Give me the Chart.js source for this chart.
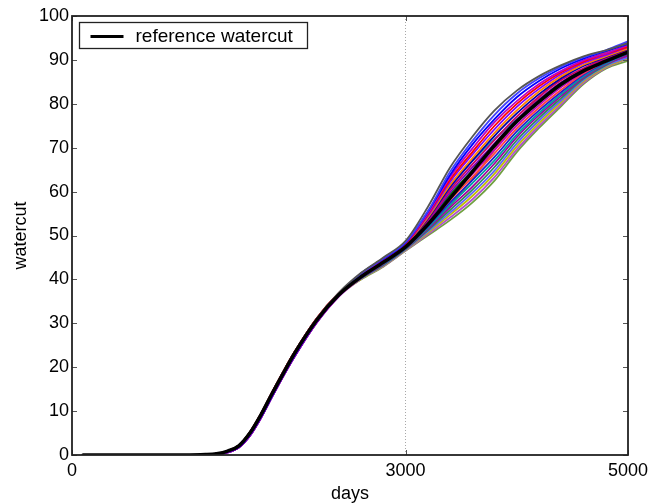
<!DOCTYPE html>
<html><head><meta charset="utf-8">
<script src="https://cdn.jsdelivr.net/npm/chart.js@4"></script>
<style>html,body{margin:0;padding:0;background:#fff}</style>
</head><body>
<canvas id="c" width="664" height="503"></canvas>
<script>
const days = [100,500,1000,1200,1300,1400,1500,1600,1700,1800,1900,2000,2200,2400,2600,2800,3000,3200,3400,3600,3800,4000,4200,4400,4600,4800,5000];
const referenceWatercut = [0,0,0,0.1,0.3,0.9,2.1,5.0,9.2,14.0,18.6,23.1,30.7,36.5,40.6,43.9,47.4,52.5,58.5,64.5,70.5,76.0,80.5,84.5,87.5,89.7,91.8];
const ens01 = [0,0,0,0.1,0.3,0.9,2.2,5.2,9.4,14.3,19.0,23.4,31.1,37.0,41.5,45.0,48.8,56.5,65.5,72.5,78.5,83.0,86.3,88.8,90.8,92.2,93.8];
const ens02 = [0,0,0,0.1,0.3,0.8,2.1,5.0,9.2,14.0,18.7,23.1,30.8,36.8,41.3,44.8,48.5,55.5,64.5,71.5,77.5,82.3,85.8,88.5,90.6,92.2,94.2];
const ens03 = [0,0,0,0.1,0.2,0.7,1.8,4.6,8.7,13.5,18.2,22.6,30.4,36.4,41.4,44.7,48.4,55.4,63.8,70.7,76.5,81.5,85.2,88.1,90.3,92.0,93.6];
const ens04 = [0,0,0,0.1,0.2,0.6,1.7,4.4,8.5,13.3,18.0,22.4,30.2,36.2,41.2,44.6,48.3,55.0,63.3,69.8,75.8,80.6,84.5,87.5,89.9,91.5,93.4];
const ens05 = [0,0,0,0.1,0.3,0.9,2.2,5.2,9.4,14.3,19.0,23.4,31.1,36.9,41.1,44.5,48.1,54.8,62.7,69.0,75.0,80.0,84.0,87.2,89.6,91.4,93.0];
const ens06 = [0,0,0,0.1,0.3,0.8,2.1,5.0,9.2,14.0,18.7,23.1,30.8,36.7,41.0,44.4,48.0,54.5,62.2,68.4,74.2,79.3,83.4,86.8,89.3,91.1,92.9];
const ens07 = [0,0,0,0.1,0.2,0.7,1.8,4.6,8.7,13.5,18.2,22.6,30.4,36.4,41.0,44.3,47.9,54.1,61.5,67.6,73.4,78.5,82.8,86.3,88.9,90.8,92.6];
const ens08 = [0,0,0,0.1,0.2,0.6,1.7,4.4,8.5,13.3,18.0,22.4,30.2,36.3,40.9,44.2,47.8,53.8,61.0,67.0,72.7,77.8,82.2,85.8,88.6,90.6,92.5];
const ens09 = [0,0,0,0.1,0.3,0.9,2.2,5.2,9.4,14.3,19.0,23.4,31.1,36.8,40.8,44.1,47.7,53.5,60.4,66.2,71.8,77.1,81.6,85.4,88.1,90.4,92.3];
const ens10 = [0,0,0,0.1,0.3,0.8,2.1,5.0,9.2,14.0,18.7,23.1,30.8,36.6,40.7,44.0,47.6,53.2,59.8,65.5,71.0,76.4,81.0,84.9,87.8,90.1,92.4];
const ens11 = [0,0,0,0.1,0.2,0.7,1.8,4.6,8.7,13.5,18.2,22.6,30.4,36.4,40.7,43.9,47.5,53.0,59.3,64.8,70.3,75.8,80.3,84.3,87.5,90.0,92.0];
const ens12 = [0,0,0,0.1,0.2,0.6,1.7,4.4,8.5,13.3,18.0,22.4,30.2,36.3,40.6,43.8,47.4,52.7,58.7,64.0,69.5,75.1,79.7,83.8,87.2,89.8,92.1];
const ens13 = [0,0,0,0.1,0.3,0.9,2.2,5.2,9.4,14.3,19.0,23.4,31.1,36.8,40.5,43.7,47.3,52.4,58.1,63.3,68.7,74.4,79.1,83.2,86.9,89.6,91.7];
const ens14 = [0,0,0,0.1,0.3,0.8,2.1,5.0,9.2,14.0,18.7,23.1,30.8,36.6,40.4,43.6,47.2,52.1,57.5,62.6,67.9,73.7,78.5,82.7,86.6,89.4,91.5];
const ens15 = [0,0,0,0.1,0.2,0.7,1.8,4.6,8.7,13.5,18.2,22.6,30.4,36.4,40.4,43.5,47.1,51.8,57.0,61.9,67.1,73.0,77.9,82.2,86.3,89.2,91.6];
const ens16 = [0,0,0,0.1,0.2,0.6,1.7,4.4,8.5,13.3,18.0,22.4,30.2,36.2,40.3,43.4,47.0,51.5,56.4,61.1,66.4,72.4,77.4,81.8,86.0,89.0,91.0];
const ens17 = [0,0,0,0.1,0.3,0.9,2.2,5.2,9.4,14.3,19.0,23.4,31.0,36.7,40.3,43.3,46.9,51.2,55.8,60.4,65.6,71.7,76.8,81.3,85.7,88.8,91.2];
const ens18 = [0,0,0,0.1,0.3,0.8,2.1,5.0,9.2,14.0,18.7,23.1,30.7,36.5,40.2,43.2,46.8,50.9,55.2,59.7,64.8,71.0,76.2,80.8,85.4,88.6,90.6];
const ens19 = [0,0,0,0.1,0.2,0.7,1.8,4.6,8.7,13.5,18.2,22.6,30.3,36.3,40.1,43.1,46.7,50.6,54.7,59.0,64.1,70.3,75.6,80.4,85.1,88.4,90.4];
const ens20 = [0,0,0,0.1,0.2,0.6,1.7,4.4,8.5,13.3,18.0,22.4,30.1,36.1,40.1,43.0,46.6,50.3,54.1,58.2,63.3,69.6,75.0,79.9,84.8,88.2,90.3];
const ens21 = [0,0,0,0.1,0.3,0.9,2.2,5.2,9.4,14.3,19.0,23.4,30.9,36.6,40.0,42.9,46.5,50.0,53.5,57.5,62.5,69.0,74.5,79.5,84.5,88.0,89.8];
const ens22 = [0,0,0,0.1,0.3,0.8,2.1,5.0,9.2,14.0,18.7,23.1,30.8,36.6,40.6,43.8,47.2,51.5,56.8,62.8,69.5,76.0,81.5,86.0,89.5,91.8,94.0];
const ens23 = [0,0,0,0.1,0.2,0.7,1.8,4.6,8.7,13.5,18.2,22.6,30.4,36.4,40.9,44.3,48.0,54.0,61.5,67.0,72.0,76.5,80.5,84.0,87.0,89.3,90.6];
const ensembleSeries = [ens01,ens02,ens03,ens04,ens05,ens06,ens07,ens08,ens09,ens10,ens11,ens12,ens13,ens14,ens15,ens16,ens17,ens18,ens19,ens20,ens21,ens22,ens23];
const ensembleColors = ['#555555','#4040ff','#0000ff','#bf00bf','#ff0000','#7f00ff','#ff7f00','#0000aa','#cc0066','#8000c0','#008000','#c000c0','#ff4040','#2020d0','#00a0a0','#a000a0','#2e8b57','#6060ff','#bfbf00','#b050d0','#70a040','#e07000','#00bfbf'];
const xTickValues = [0, 3000, 5000];
const yMin = 0, yMax = 100, yStep = 10;
const referenceLabel = 'reference watercut';

const FONT = "'Liberation Sans', Arial, Helvetica, sans-serif";
Chart.defaults.font.family = FONT;
Chart.defaults.color = '#000';

const toPoints = arr => arr.map((v, i) => ({x: days[i], y: v}));

const datasets = [{
  label: referenceLabel,
  data: toPoints(referenceWatercut),
  borderColor: '#000',
  borderWidth: 3.5,
  order: 0
}];
ensembleSeries.forEach((s, i) => {
  datasets.push({
    label: 'ensemble ' + (i + 1),
    data: toPoints(s),
    borderColor: ensembleColors[i],
    borderWidth: 1.8,
    order: 1
  });
});

const framePlugin = {
  id: 'frame',
  afterDraw(chart) {
    const {ctx, chartArea: a, scales} = chart;
    ctx.save();
    ctx.strokeStyle = '#555';
    ctx.lineWidth = 1;
    ctx.beginPath();
    scales.y.ticks.forEach(t => {
      const y = Math.round(scales.y.getPixelForValue(t.value)) + 0.5;
      ctx.moveTo(a.left, y); ctx.lineTo(a.left + 5, y);
      ctx.moveTo(a.right, y); ctx.lineTo(a.right - 5, y);
    });
    scales.x.ticks.forEach(t => {
      const x = Math.round(scales.x.getPixelForValue(t.value)) + 0.5;
      ctx.moveTo(x, a.bottom); ctx.lineTo(x, a.bottom - 5);
      ctx.moveTo(x, a.top); ctx.lineTo(x, a.top + 5);
    });
    ctx.stroke();
    ctx.strokeStyle = '#222';
    ctx.lineWidth = 1.8;
    ctx.strokeRect(a.left, a.top, a.right - a.left, a.bottom - a.top);
    // legend box inside plot area
    const ds = chart.data.datasets[0];
    const bx = Math.round(a.left + 7) + 0.5, by = Math.round(a.top + 6) + 0.5, bw = 228, bh = 26;
    ctx.fillStyle = '#fff';
    ctx.fillRect(bx, by, bw, bh);
    ctx.strokeStyle = '#222';
    ctx.lineWidth = 1.3;
    ctx.strokeRect(bx, by, bw, bh);
    ctx.beginPath();
    ctx.strokeStyle = ds.borderColor;
    ctx.lineWidth = 3;
    ctx.moveTo(bx + 11, by + bh / 2 + 1);
    ctx.lineTo(bx + 44, by + bh / 2 + 1);
    ctx.stroke();
    ctx.fillStyle = '#000';
    ctx.font = '19px ' + FONT;
    ctx.textBaseline = 'middle';
    ctx.textAlign = 'left';
    ctx.fillText(ds.label, bx + 56, by + bh / 2 + 1);
    ctx.restore();
  }
};

new Chart(document.getElementById('c'), {
  type: 'line',
  data: {datasets},
  options: {
    responsive: false,
    animation: false,
    devicePixelRatio: 1,
    layout: {padding: {top: 16, right: 36, left: 0, bottom: 0}},
    plugins: {legend: {display: false}, tooltip: {enabled: false}},
    elements: {
      point: {radius: 0},
      line: {cubicInterpolationMode: 'monotone', borderCapStyle: 'round', borderJoinStyle: 'round'}
    },
    scales: {
      x: {
        type: 'linear', min: 0, max: 5000,
        afterBuildTicks: s => { s.ticks = xTickValues.map(v => ({value: v})); },
        afterFit: s => { s.height = 48; },
        ticks: {autoSkip: false, maxRotation: 0, padding: 5, color: '#000', font: {size: 18}, callback: v => String(v)},
        grid: {drawTicks: false, lineWidth: 1, color: c => (c.tick && c.tick.value === 3000) ? '#a8a8a8' : 'rgba(0,0,0,0)'},
        border: {display: false, dash: [1, 2]},
        title: {display: true, text: 'days', color: '#000', font: {size: 18, lineHeight: 1}, padding: {top: 0, bottom: 0}}
      },
      y: {
        min: yMin, max: yMax,
        afterFit: s => { s.width = 72; },
        ticks: {stepSize: yStep, padding: 3, color: '#000', font: {size: 18}},
        grid: {display: false, drawTicks: false},
        border: {display: false},
        title: {display: true, text: 'watercut', color: '#000', font: {size: 18, lineHeight: 1}, padding: {top: 12, bottom: 0}}
      }
    }
  },
  plugins: [framePlugin]
});
</script>
</body></html>
